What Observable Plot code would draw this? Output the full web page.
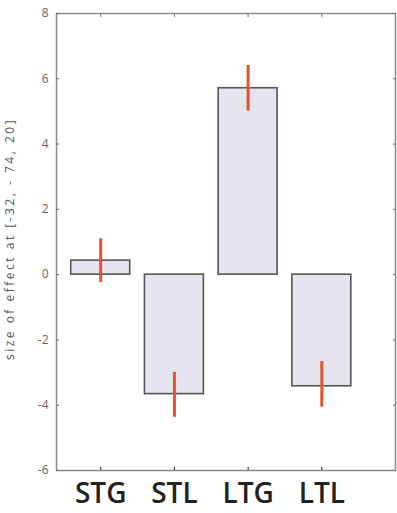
<!DOCTYPE html>
<html>
<head>
<meta charset="utf-8">
<script src="https://cdn.jsdelivr.net/npm/d3@7"></script>
<script src="https://cdn.jsdelivr.net/npm/@observablehq/plot@0.6"></script>
<style>
  html, body { margin: 0; padding: 0; background: #fff; }
</style>
</head>
<body>
<div id="chart"></div>
<script>
const categories = ["STG", "STL", "LTG", "LTL"];
const values = [0.43, -3.66, 5.71, -3.42];
const errLow = [-0.24, -4.37, 5.01, -4.06];
const errHigh = [1.10, -2.99, 6.41, -2.66];
const yTicks = [-6, -4, -2, 0, 2, 4, 6, 8];
const yLabel = "size of effect at [-32, - 74, 20]";

const data = categories.map((c, i) => ({
  name: c, pos: i + 1, value: values[i], lo: errLow[i], hi: errHigh[i]
}));
const half = 0.4;

const chart = Plot.plot({
  width: 397,
  height: 513,
  marginLeft: 56,
  marginRight: 2,
  marginTop: 13,
  marginBottom: 43,
  style: { fontFamily: "Open Sans, sans-serif", background: "#fff" },
  x: { domain: [0.4, 5], type: "linear" },
  y: { domain: [-6, 8] },
  marks: [
    Plot.rect(data, {
      x1: d => d.pos - half, x2: d => d.pos + half,
      y1: 0, y2: "value",
      fill: "#e6e4ee", stroke: "#555", strokeWidth: 1.6
    }),
    Plot.ruleX(data, {
      x: "pos", y1: "lo", y2: "hi",
      stroke: "#e2532b", strokeWidth: 3
    }),
    Plot.frame({ stroke: "#8a8a8a", strokeWidth: 1.5 }),
    Plot.axisY({
      anchor: "left", ticks: yTicks, tickSize: -3, tickPadding: 11,
      tickFormat: d => String(d).replace("−", "-"),
      fontSize: 12, color: "#666", label: null
    }),
    Plot.axisY({
      anchor: "right", ticks: yTicks, tickSize: -3, tickFormat: () => "",
      color: "#777", label: null
    }),
    Plot.axisX({
      anchor: "top", ticks: [1, 2, 3, 4], tickSize: -3, tickFormat: () => "",
      color: "#777", label: null
    }),
    Plot.axisX({
      anchor: "bottom", ticks: [1, 2, 3, 4], tickSize: -3, tickPadding: 16,
      tickFormat: d => categories[d - 1],
      fontSize: 28, fontWeight: 600, color: "#222", label: null
    }),
    Plot.text([yLabel], {
      frameAnchor: "left", rotate: -90, dx: -46, dy: -3,
      textAnchor: "middle",
      fontSize: 12, fill: "#555", text: d => d
    })
  ]
});
chart.querySelectorAll("text").forEach(t => {
  if (t.textContent === yLabel) t.style.letterSpacing = "2.5px";
});
document.getElementById("chart").appendChild(chart);
</script>
</body>
</html>
